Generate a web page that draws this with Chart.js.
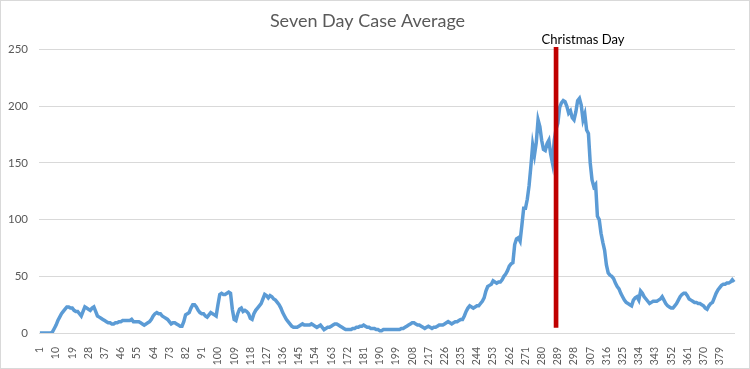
<!DOCTYPE html>
<html>
<head>
<meta charset="utf-8">
<script src="https://cdn.jsdelivr.net/npm/chart.js@4"></script>
<style>
  html, body { margin: 0; padding: 0; background: #fff; }
  #wrap { width: 750px; height: 369px; }
</style>
</head>
<body>
<div id="wrap"><canvas id="caseChart" width="750" height="369"></canvas></div>
<script>
// day numbers along the x axis, a label shown every 9 days
const days = Array.from({ length: 387 }, (_, i) => String(i + 1));
const labelStep = 9;

// seven day average of cases
const caseAverage = [
  0, 0, 0, 0, 0, 0, 0, 1, 4, 7,
  11, 14, 17, 19, 21, 23, 23, 22, 22, 20,
  19, 19, 17, 15, 19, 23, 22, 21, 20, 22,
  23, 19, 15, 14, 13, 12, 11, 10, 9, 9,
  8, 8, 9, 9, 10, 10, 11, 11, 11, 11,
  11, 12, 10, 10, 10, 10, 9, 8, 7, 8,
  9, 10, 12, 15, 17, 18, 17, 17, 15, 14,
  13, 12, 10, 8, 9, 9, 8, 7, 6, 6,
  10, 16, 17, 18, 22, 25, 25, 23, 20, 18,
  17, 17, 15, 14, 16, 18, 17, 16, 15, 25,
  34, 35, 34, 34, 35, 36, 35, 21, 12, 11,
  17, 21, 22, 19, 20, 19, 17, 13, 12, 17,
  20, 22, 24, 26, 30, 34, 33, 31, 33, 32,
  30, 29, 27, 25, 22, 18, 15, 12, 10, 8,
  6, 5, 5, 5, 6, 7, 8, 7, 7, 7,
  7, 8, 7, 6, 5, 6, 7, 5, 3, 4,
  5, 5, 6, 7, 8, 8, 7, 6, 5, 4,
  3, 3, 3, 3, 4, 4, 5, 5, 6, 6,
  7, 6, 5, 5, 4, 4, 4, 3, 3, 2,
  2, 3, 3, 3, 3, 3, 3, 3, 3, 3,
  3, 4, 4, 5, 6, 7, 8, 9, 9, 8,
  7, 7, 6, 5, 4, 5, 6, 5, 4, 5,
  5, 6, 7, 7, 7, 8, 9, 10, 9, 8,
  9, 10, 10, 11, 12, 12, 15, 19, 22, 24,
  23, 22, 23, 24, 24, 26, 28, 31, 37, 41,
  42, 43, 46, 45, 44, 45, 45, 47, 50, 52,
  55, 59, 61, 62, 78, 83, 84, 81, 95, 110,
  110, 118, 130, 147, 166, 157, 168, 188, 182, 170,
  162, 161, 167, 170, 158, 150, 170, 180, 185, 199,
  203, 205, 204, 200, 194, 196, 190, 188, 195, 205,
  207, 201, 188, 193, 179, 176, 150, 135, 129, 131,
  103, 100, 88, 80, 73, 60, 53, 51, 50, 48,
  44, 41, 39, 35, 32, 29, 27, 26, 25, 24,
  29, 31, 32, 29, 37, 35, 32, 30, 28, 26,
  27, 28, 28, 28, 29, 30, 32, 29, 26, 24,
  23, 22, 22, 24, 26, 29, 32, 34, 35, 35,
  33, 30, 29, 28, 27, 27, 26, 26, 25, 24,
  22, 21, 24, 26, 27, 31, 35, 38, 40, 42,
  43, 43, 44, 44, 45, 47, 45
];

// marker for Christmas Day
const christmasDay = '288';
const christmasRange = [5, 252];
const christmasLabel = 'Christmas Day';

const yTicks = [0, 50, 100, 150, 200, 250];

const markerData = days.map(d => d === christmasDay ? christmasRange : null);

const frame = {
    id: 'frame',
    beforeDraw(chart) {
        const c = chart.ctx;
        c.save();
        c.fillStyle = '#fff';
        c.fillRect(0, 0, chart.width, chart.height);
        c.strokeStyle = '#d9d9d9';
        c.lineWidth = 1;
        c.strokeRect(0.5, 0.5, chart.width - 1, chart.height - 1);
        c.restore();
    },
    afterDatasetsDraw(chart) {
        const c = chart.ctx;
        const x = chart.scales.x.getPixelForValue(days.indexOf(christmasDay));
        const y = chart.scales.y.getPixelForValue(christmasRange[1]);
        c.save();
        c.font = '13px Lato';
        c.fillStyle = '#000';
        c.textAlign = 'center';
        c.textBaseline = 'bottom';
        c.fillText(christmasLabel, x + 27, y - 1);
        c.restore();
    }
};

const ctx = document.getElementById('caseChart').getContext('2d');
new Chart(ctx, {
    data: {
        labels: days,
        datasets: [
            {
                type: 'bar',
                label: christmasLabel,
                data: markerData,
                backgroundColor: '#C00000',
                barThickness: 4,
                clip: false,
                order: 0
            },
            {
                type: 'line',
                label: 'Seven Day Case Average',
                data: caseAverage,
                borderColor: '#5B9BD5',
                borderWidth: 3.5,
                pointRadius: 0,
                tension: 0,
                fill: false,
                order: 1
            }
        ]
    },
    options: {
        responsive: false,
        animation: false,
        layout: { padding: { left: 0, right: 15, top: 4, bottom: 0 } },
        plugins: {
            legend: { display: false },
            tooltip: { enabled: false },
            title: {
                display: true,
                text: 'Seven Day Case Average',
                color: '#595959',
                font: { family: 'Lato', size: 18, weight: 'normal' },
                padding: { top: 6, bottom: 18 }
            }
        },
        scales: {
            x: {
                offset: true,
                grid: { display: false },
                border: { display: false },
                afterFit: axis => { axis.height = 36; },
                ticks: {
                    autoSkip: false,
                    minRotation: 90,
                    maxRotation: 90,
                    padding: 6,
                    color: '#595959',
                    font: { family: 'Lato', size: 10.5 },
                    callback: (v, i) => i % labelStep === 0 ? days[i] : null
                }
            },
            y: {
                min: 0,
                max: 250,
                afterBuildTicks: axis => { axis.ticks = yTicks.map(v => ({ value: v })); },
                afterFit: axis => { axis.width = 39; },
                grid: { color: '#d9d9d9', lineWidth: 1, drawTicks: false },
                border: { display: false },
                ticks: {
                    padding: 11,
                    color: '#595959',
                    font: { family: 'Lato', size: 11.5 }
                }
            }
        }
    },
    plugins: [frame]
});
</script>
</body>
</html>
